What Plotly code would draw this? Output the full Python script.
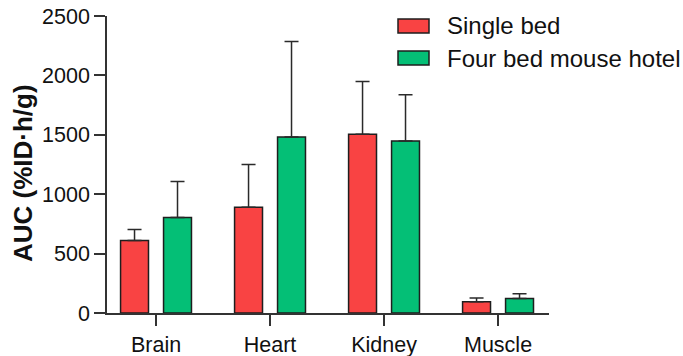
import plotly.graph_objects as go

categories = ["Brain", "Heart", "Kidney", "Muscle"]
single_bed = [610, 890, 1504, 95]
single_bed_err = [93, 359, 445, 31]
hotel = [804, 1481, 1448, 123]
hotel_err = [302, 804, 389, 39]
series_names = ["Single bed", "Four bed mouse hotel"]
y_ticks = [0, 500, 1000, 1500, 2000, 2500]

RED = "#F94343"
GREEN = "#04BF76"
FONT = "Arial, Liberation Sans, sans-serif"

fig = go.Figure()
for name, vals, errs, col in [
    (series_names[0], single_bed, single_bed_err, RED),
    (series_names[1], hotel, hotel_err, GREEN),
]:
    fig.add_trace(go.Bar(
        x=categories, y=vals, name=name,
        marker=dict(color=col, line=dict(color="#1e1e1e", width=1.5)),
        error_y=dict(type="data", symmetric=False, array=errs,
                     arrayminus=[0] * len(errs), color="#2a2a2a",
                     thickness=1.5, width=7),
        showlegend=False,
    ))

W, H = 683, 356
L, R, T, B = 107, 683 - 549, 16, 356 - 313
pw, ph = W - L - R, H - T - B

fig.update_layout(
    width=W, height=H,
    margin=dict(l=L, r=R, t=T, b=B, autoexpand=False),
    paper_bgcolor="white", plot_bgcolor="white",
    barmode="group", bargap=0.246, bargroupgap=0.35,
    font=dict(family=FONT, color="#111"),
    showlegend=False,
    xaxis=dict(range=[-0.43, 3.447], showline=True, linecolor="#333", linewidth=1.5,
               ticks="outside", ticklen=11, tickwidth=1.5, tickcolor="#333",
               tickfont=dict(size=21.5, family=FONT, color="#111"), showgrid=False,
               zeroline=False, automargin=False, ticklabeloverflow="allow"),
    yaxis=dict(range=[0, 2500], tickvals=y_ticks, showline=True, linecolor="#333",
               linewidth=1.5, ticks="outside", ticklen=11, tickwidth=1.5, tickcolor="#333",
               tickfont=dict(size=21.5, family=FONT, color="#111"), showgrid=False,
               zeroline=False, automargin=False, ticklabeloverflow="allow"),
)

def px_x(p):
    return (p - L) / pw

def px_y(p):
    return 1 - (p - T) / ph

# y-axis title
fig.add_annotation(text="<b>AUC (%ID·h/g)</b>", textangle=-90, xref="paper", yref="paper",
                   x=px_x(23), y=px_y(173), showarrow=False,
                   font=dict(size=26, family=FONT, color="#111"),
                   xanchor="center", yanchor="middle")

# legend drawn manually
for i, (name, col) in enumerate(zip(series_names, [RED, GREEN])):
    y0, y1 = [(19, 33), (51, 65)][i]
    fig.add_shape(type="rect", xref="paper", yref="paper",
                  x0=px_x(398), x1=px_x(429), y0=px_y(y1), y1=px_y(y0),
                  fillcolor=col, line=dict(color="#1e1e1e", width=1.5))
    fig.add_annotation(text=name, xref="paper", yref="paper",
                       x=px_x(445), y=px_y((y0 + y1) / 2), showarrow=False,
                       xanchor="left", yanchor="middle",
                       font=dict(size=24, family=FONT, color="#111"))

# remove the default 8px page margin so the figure fills the window exactly
fig.write_html("out.html", config={"displayModeBar": False},
               post_script="document.body.style.margin='0';")
